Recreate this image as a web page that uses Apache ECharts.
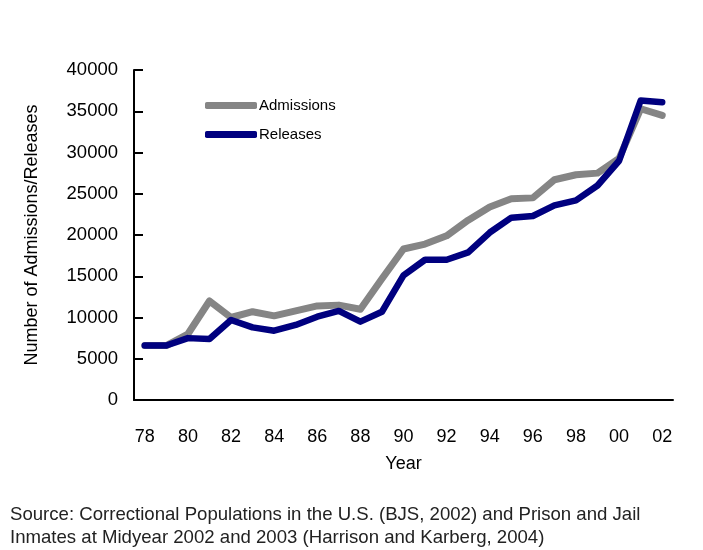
<!DOCTYPE html>
<html>
<head>
<meta charset="utf-8">
<script src="https://cdn.jsdelivr.net/npm/echarts@6/dist/echarts.min.js"></script>
<style>html,body{margin:0;padding:0;background:#fff;}#c{width:703px;height:550px;}</style>
</head>
<body>
<div id="c"></div>
<script>
var years = ['78','79','80','81','82','83','84','85','86','87','88','89','90','91','92','93','94','95','96','97','98','99','00','01','02'];
var admissions = [6600,6600,8000,12000,10000,10700,10200,10800,11400,11500,11000,14700,18300,18900,19900,21800,23400,24400,24500,26700,27300,27500,29300,35300,34500];
var releases = [6600,6600,7500,7400,9700,8800,8400,9100,10100,10800,9500,10700,15100,17000,17000,17900,20300,22100,22300,23600,24200,26000,29000,36300,36100];
var yTicks = [0,5000,10000,15000,20000,25000,30000,35000,40000];

var FONT = 'Liberation Sans';
var chart = echarts.init(document.getElementById('c'), null, {renderer:'canvas'});
chart.setOption({
  animation: false,
  backgroundColor: '#fff',
  textStyle: {fontFamily: FONT},
  title: {
    text: 'Source: Correctional Populations in the U.S. (BJS, 2002) and Prison and Jail\nInmates at Midyear 2002 and 2003 (Harrison and Karberg, 2004)',
    left: 5, top: 498,
    textStyle: {fontFamily: FONT, fontSize: 18.6, fontWeight: 'normal', color: '#222', lineHeight: 23}
  },
  legend: {
    orient: 'vertical',
    left: 200, top: 93,
    itemWidth: 52, itemHeight: 7,
    itemGap: 14,
    icon: 'roundRect',
    textStyle: {fontFamily: FONT, fontSize: 15, color: '#000', padding: [0,0,0,-3]},
    data: ['Admissions','Releases']
  },
  grid: {left: 134, right: 30, top: 70, bottom: 150, containLabel: false},
  xAxis: {
    type: 'category',
    data: years,
    boundaryGap: true,
    name: 'Year',
    nameLocation: 'middle',
    nameGap: 55,
    nameTextStyle: {fontFamily: FONT, fontSize: 18, color: '#000'},
    axisLine: {lineStyle: {color: '#000', width: 2}},
    axisTick: {inside: true, length: 9, alignWithLabel: false, interval: 0, lineStyle: {color: '#000', width: 2}},
    axisLabel: {interval: 1, margin: 28, fontFamily: FONT, fontSize: 18, color: '#000'},
    splitLine: {show: false}
  },
  yAxis: {
    type: 'value',
    min: 0, max: 40000, interval: 5000,
    name: 'Number of Admissions/Releases',
    nameLocation: 'middle',
    nameGap: 93,
    nameTextStyle: {fontFamily: FONT, fontSize: 18, color: '#000'},
    axisLine: {show: true, lineStyle: {color: '#000', width: 2}},
    axisTick: {show: true, inside: true, length: 9, lineStyle: {color: '#000', width: 2}},
    axisLabel: {margin: 16, fontFamily: FONT, fontSize: 18.5, color: '#000',
      formatter: function(v){ return yTicks.indexOf(v) >= 0 ? String(v) : ''; }},
    splitLine: {show: false}
  },
  series: [
    {name: 'Admissions', type: 'line', data: admissions, showSymbol: false, symbol: 'none',
     itemStyle: {color: '#858585'},
     lineStyle: {color: '#858585', width: 7, cap: 'round', join: 'round'}, z: 2},
    {name: 'Releases', type: 'line', data: releases, showSymbol: false, symbol: 'none',
     itemStyle: {color: '#00007f'},
     lineStyle: {color: '#00007f', width: 6.5, cap: 'round', join: 'round'}, z: 3}
  ]
});
</script>
</body>
</html>
